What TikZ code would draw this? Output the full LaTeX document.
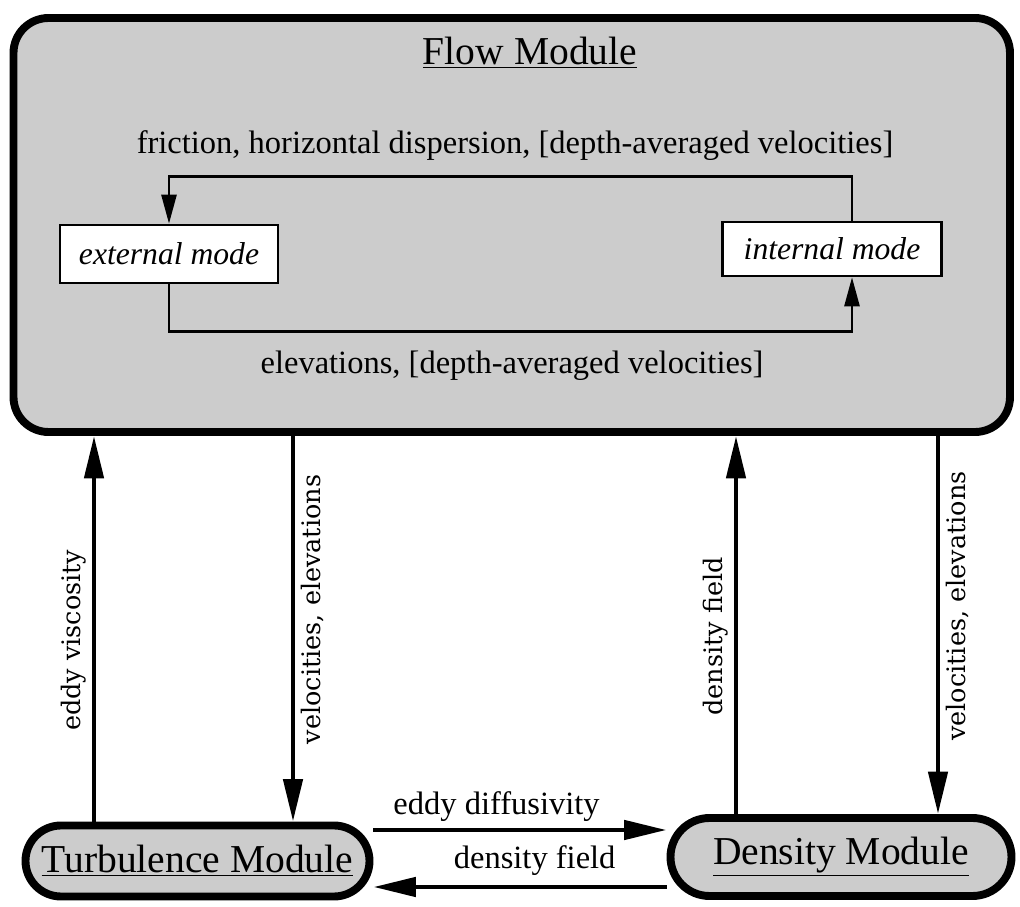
\documentclass[tikz,border=0pt]{standalone}
\usepackage{fontspec}
\setmainfont{Liberation Serif}
\newfontfamily\vlabelfont{DejaVu Serif}
\usetikzlibrary{arrows.meta}

\begin{document}
\begin{tikzpicture}[
    module/.style={draw, line width=4.5pt, fill=gray!40, rounded corners=#1},
    modtitle/.style={font=\fontsize{22.5}{26}\selectfont},
    mode/.style={draw, line width=1.5pt, fill=white, font=\fontsize{18}{21}\selectfont\itshape},
    flowlabel/.style={font=\fontsize{18.5}{22}\selectfont},
    vlabel/.style={rotate=90, font=\vlabelfont\fontsize{14.5}{17}\selectfont},
    bigarrow/.style={line width=2.7pt, -{Triangle[length=0.85cm,width=0.38cm]}},
    looparrow/.style={line width=1.5pt, -{Triangle[length=0.58cm,width=0.3cm]}}
  ]
  \useasboundingbox (0,0) rectangle (20.4,18.12);

  % Flow module
  \node[module=0.7cm, minimum width=19.93cm, minimum height=8.28cm] (flow) at (10.235,13.62) {};
  \node[modtitle] (flowtitle) at (10.6,17.06) {\underline{Flow Module}};
  \node[flowlabel] (fric) at (10.3,15.2) {friction, horizontal dispersion, [depth-averaged velocities]};
  \node[mode, minimum width=4.36cm, minimum height=1.16cm] (external) at (3.38,13.04) {external mode};
  \node[mode, minimum width=4.38cm, minimum height=1.08cm] (internal) at (16.64,13.14) {internal mode};
  \node[flowlabel] (elev) at (10.24,10.8) {elevations, [depth-averaged velocities]};

  % Mode coupling
  \draw[looparrow] ([xshift=4mm]internal.north) -- ++(0,0.88) -| (external.north);
  \draw[looparrow] (external.south) -- ++(0,-0.94) -| ([xshift=4mm]internal.south);

  % Turbulence and density modules
  \node[module=0.71cm, modtitle, minimum width=6.88cm, minimum height=1.42cm] (turb) at (3.95,0.9) {\underline{Turbulence Module}};
  \node[module=0.78cm, modtitle, minimum width=6.82cm, minimum height=1.56cm] (dens) at (16.82,0.98) {\underline{Density Module}};

  % Vertical exchanges
  \coordinate (xa) at (1.88,0);
  \coordinate (xb) at (5.86,0);
  \coordinate (xc) at (14.72,0);
  \coordinate (xd) at (18.76,0);
  \draw[bigarrow] (turb.north -| xa) -- (flow.south -| xa)
    node[pos=0.47, vlabel, anchor=south] {eddy viscosity};
  \draw[bigarrow] (flow.south -| xb) -- (turb.north -| xb)
    node[pos=0.45, vlabel, anchor=north] {velocities, elevations};
  \draw[bigarrow] (dens.north -| xc) -- (flow.south -| xc)
    node[pos=0.47, vlabel, anchor=south] {density field};
  \draw[bigarrow] (flow.south -| xd) -- (dens.north -| xd)
    node[pos=0.45, vlabel, anchor=north] {velocities, elevations};

  % Horizontal exchanges
  \coordinate (ytop) at (0,1.52);
  \coordinate (ybot) at (0,0.38);
  \draw[bigarrow] (turb.east |- ytop) -- (dens.west |- ytop)
    node[pos=0.42, above, flowlabel] {eddy diffusivity};
  \draw[bigarrow] (dens.west |- ybot) -- (turb.east |- ybot)
    node[pos=0.45, above=2pt, flowlabel] {density field};

\end{tikzpicture}
\end{document}
